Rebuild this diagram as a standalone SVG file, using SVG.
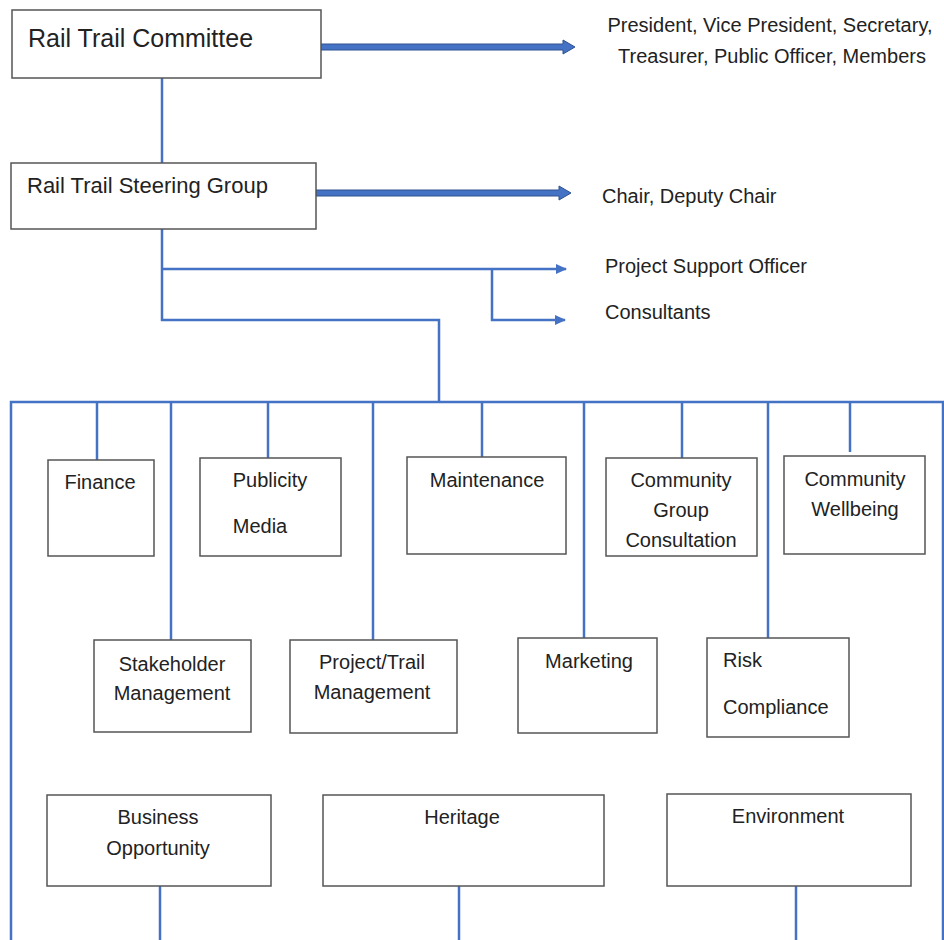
<svg xmlns="http://www.w3.org/2000/svg" width="944" height="940" viewBox="0 0 944 940">
<defs>
<style>
.box{fill:#fff;stroke:#555;stroke-width:1.5}
.t{font-family:"Liberation Sans",Arial,sans-serif;font-size:20px;fill:#222}
.c{text-anchor:middle}
.ln{fill:none;stroke:#4472C4;stroke-width:2.5}
.thick{fill:#4472C4;stroke:#2F528F;stroke-width:1}
</style>
<marker id="ah" markerWidth="12" markerHeight="12" refX="10" refY="6" orient="auto" markerUnits="userSpaceOnUse">
<path d="M0,1 L11,6 L0,11 Z" fill="#4472C4"/>
</marker>
</defs>
<rect width="944" height="940" fill="#fff"/>
<g id="connectors">
<polygon class="thick" points="321,44 563,44 563,40 575,47 563,54 563,50 321,50"/>
<polygon class="thick" points="316,190 559,190 559,186 571,193 559,200 559,196 316,196"/>
<path class="ln" d="M162,78 V163"/>
<path class="ln" d="M162,229 V320 H439 V402"/>
<path class="ln" d="M162,269 H566" marker-end="url(#ah)"/>
<path class="ln" d="M492,269 V320 H565" marker-end="url(#ah)"/>
<path class="ln" d="M11,940 V402 H943 V940"/>
<path class="ln" d="M97,402 V460"/>
<path class="ln" d="M171,402 V640"/>
<path class="ln" d="M268,402 V458"/>
<path class="ln" d="M373,402 V640"/>
<path class="ln" d="M482,402 V457"/>
<path class="ln" d="M584,402 V638"/>
<path class="ln" d="M682,402 V458"/>
<path class="ln" d="M768,402 V638"/>
<path class="ln" d="M850,402 V452"/>
<path class="ln" d="M160,886 V940"/>
<path class="ln" d="M459,886 V940"/>
<path class="ln" d="M796,886 V940"/>
</g>
<g id="committee">
<rect class="box" x="12" y="10" width="309" height="68"/>
<text class="t" x="28" y="47" style="font-size:25px">Rail Trail Committee</text>
</g>
<g id="committee-members">
<text class="t c" x="770" y="32">President, Vice President, Secretary,</text>
<text class="t c" x="772" y="63">Treasurer, Public Officer, Members</text>
</g>
<g id="steering">
<rect class="box" x="11" y="163" width="305" height="66"/>
<text class="t" x="27" y="193" style="font-size:22px">Rail Trail Steering Group</text>
</g>
<g id="chair"><text class="t" x="602" y="203">Chair, Deputy Chair</text></g>
<g id="pso"><text class="t" x="605" y="273">Project Support Officer</text></g>
<g id="consultants"><text class="t" x="605" y="319">Consultants</text></g>
<g id="finance">
<rect class="box" x="48" y="460" width="106" height="96"/>
<text class="t c" x="100" y="489">Finance</text>
</g>
<g id="publicity">
<rect class="box" x="200" y="458" width="141" height="98"/>
<text class="t c" x="270" y="487">Publicity</text>
<text class="t c" x="260" y="533">Media</text>
</g>
<g id="maintenance">
<rect class="box" x="407" y="457" width="159" height="97"/>
<text class="t c" x="487" y="487">Maintenance</text>
</g>
<g id="community-group">
<rect class="box" x="606" y="458" width="151" height="98"/>
<text class="t c" x="681" y="487">Community</text>
<text class="t c" x="681" y="517">Group</text>
<text class="t c" x="681" y="547">Consultation</text>
</g>
<g id="community-wellbeing">
<rect class="box" x="784" y="456" width="141" height="98"/>
<text class="t c" x="855" y="486">Community</text>
<text class="t c" x="855" y="516">Wellbeing</text>
</g>
<g id="stakeholder">
<rect class="box" x="94" y="640" width="157" height="92"/>
<text class="t c" x="172" y="671">Stakeholder</text>
<text class="t c" x="172" y="700">Management</text>
</g>
<g id="project-trail">
<rect class="box" x="290" y="640" width="167" height="93"/>
<text class="t c" x="372" y="669">Project/Trail</text>
<text class="t c" x="372" y="699">Management</text>
</g>
<g id="marketing">
<rect class="box" x="518" y="638" width="139" height="95"/>
<text class="t c" x="589" y="668">Marketing</text>
</g>
<g id="risk">
<rect class="box" x="707" y="638" width="142" height="99"/>
<text class="t" x="723" y="667">Risk</text>
<text class="t" x="723" y="714">Compliance</text>
</g>
<g id="business">
<rect class="box" x="47" y="795" width="224" height="91"/>
<text class="t c" x="158" y="824">Business</text>
<text class="t c" x="158" y="855">Opportunity</text>
</g>
<g id="heritage">
<rect class="box" x="323" y="795" width="281" height="91"/>
<text class="t c" x="462" y="824">Heritage</text>
</g>
<g id="environment">
<rect class="box" x="667" y="794" width="244" height="92"/>
<text class="t c" x="788" y="823">Environment</text>
</g>
</svg>
